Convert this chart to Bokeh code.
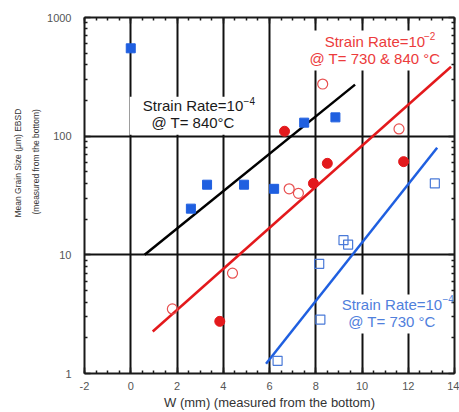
import math
from bokeh.plotting import figure
from bokeh.models import (Label, Title, LinearAxis, LogAxis, SingleIntervalTicker, FixedTicker,
                          Range1d, NumeralTickFormatter)
from bokeh.embed import file_html
from bokeh.resources import INLINE

# ---------------- data ----------------
# Strain rate 1e-4 @ 840 C (filled blue squares)
blue840_x = [0.0, 2.6, 3.3, 4.9, 6.2, 7.5, 8.85]
blue840_y = [550, 24.5, 39, 39, 36, 130, 144]
# Strain rate 1e-2 @ 730 & 840 C (filled red circles / open red circles)
red_filled_x = [3.85, 6.65, 7.9, 8.5, 11.8]
red_filled_y = [2.75, 110, 40, 59, 61]
red_open_x = [1.8, 4.4, 6.85, 7.25, 8.3, 11.6]
red_open_y = [3.5, 7.0, 36, 33, 275, 115]
# Strain rate 1e-4 @ 730 C (open blue squares)
blue730_x = [6.35, 8.2, 8.15, 9.2, 9.4, 13.15]
blue730_y = [1.28, 2.85, 8.4, 13.3, 12.2, 40]
# fit lines
black_fit_x = [0.6, 9.7]
black_fit_y = [10, 272]
red_fit_x = [0.95, 13.85]
red_fit_y = [2.26, 385]
blue_fit_x = [5.85, 13.25]
blue_fit_y = [1.21, 80]

x_ticks = [-2, 0, 2, 4, 6, 8, 10, 12, 14]
y_ticks = [1, 10, 100, 1000]
x_grid_ticks = [0, 2, 4, 6, 8, 10, 12]
y_grid_ticks = [10, 100]

FONT = "Liberation Sans"
AX = "#1a1a1a"
RED = "#e3191c"
RED_TXT = "#ec3b3b"
BLUE = "#1f5fe0"
BLUE_TXT = "#5080dc"

y_minor = [m * d for d in (1, 10, 100) for m in range(2, 10)]

p = figure(width=459, height=412, x_range=Range1d(-2, 14), y_range=Range1d(1, 1000),
           y_axis_type="log", output_backend="svg", toolbar_location=None,
           min_border_left=84, min_border_right=5, min_border_top=17, min_border_bottom=39)
p.outline_line_color = None
p.background_fill_color = "white"

def style_axis(ax, labels=True):
    ax.axis_line_color = AX
    ax.axis_line_width = 2
    ax.major_tick_in = 6
    ax.major_tick_out = 0
    ax.minor_tick_in = 3
    ax.minor_tick_out = 0
    ax.major_tick_line_color = AX
    ax.minor_tick_line_color = AX
    ax.major_tick_line_width = 1.5
    ax.minor_tick_line_width = 1.5
    if labels:
        ax.major_label_text_font = FONT
        ax.major_label_text_font_size = "11px"
        ax.major_label_text_color = "#555555"
    else:
        ax.major_label_text_font_size = "1px"
        ax.major_label_text_color = None
        ax.major_label_standoff = 0

xt = SingleIntervalTicker(interval=2, num_minor_ticks=4)
yt = FixedTicker(ticks=y_ticks, minor_ticks=y_minor)

p.xaxis.ticker = xt
p.yaxis.ticker = yt
p.yaxis.formatter = NumeralTickFormatter(format="0")
p.xaxis.formatter = NumeralTickFormatter(format="0")
style_axis(p.xaxis[0])
style_axis(p.yaxis[0])
p.xaxis.major_label_standoff = 8
p.yaxis.major_label_standoff = 13
p.xaxis.axis_label = "W (mm) (measured from the bottom)"
p.xaxis.axis_label_text_font = FONT
p.xaxis.axis_label_text_font_size = "13px"
p.xaxis.axis_label_text_font_style = "normal"
p.xaxis.axis_label_text_color = "#333333"
p.xaxis.axis_label_standoff = 2

top = LinearAxis(ticker=SingleIntervalTicker(interval=2, num_minor_ticks=4))
style_axis(top, labels=False)
p.add_layout(top, "above")
right = LogAxis(ticker=FixedTicker(ticks=y_ticks, minor_ticks=y_minor))
style_axis(right, labels=False)
p.add_layout(right, "right")

# y-axis title: two rotated lines, placed higher than centre like the reference
for txt, stand, off in (("(measured from the bottom)", 8, 159),
                        ("Mean Grain Size (μm) EBSD", 3, 156)):
    p.add_layout(Title(text=txt, align="left", offset=off, standoff=stand,
                       text_font=FONT, text_font_size="8.5px", text_font_style="normal",
                       text_color="#333333"), "left")

p.xgrid.ticker = FixedTicker(ticks=x_grid_ticks)
p.ygrid.ticker = FixedTicker(ticks=y_grid_ticks)
for g in (p.xgrid[0], p.ygrid[0]):
    g.grid_line_color = "#111111"
    g.grid_line_width = 2
    g.minor_grid_line_color = None

# fit lines
p.line(black_fit_x, black_fit_y, line_color="black", line_width=2.5)
p.line(red_fit_x, red_fit_y, line_color=RED, line_width=2.5)
p.line(blue_fit_x, blue_fit_y, line_color=BLUE, line_width=2.5)

# points
p.scatter(blue840_x, blue840_y, marker="square", size=9, fill_color=BLUE, line_color=BLUE)
p.scatter(red_filled_x, red_filled_y, marker="circle", size=10, fill_color=RED, line_color=RED)
p.scatter(red_open_x, red_open_y, marker="circle", size=10, fill_color=None,
          line_color="#e85050", line_width=1.2)
p.scatter(blue730_x, blue730_y, marker="square", size=9, fill_color=None,
          line_color="#4a7ad8", line_width=1.2)

def note(x, y, text, color, pad, sup, sup_dx, sup_dy):
    lab = Label(x=x, y=y, text=text, text_font=FONT, text_font_size="15px",
                text_color=color, text_align="center", text_baseline="middle",
                text_line_height=1.0, background_fill_color="white", padding=pad)
    p.add_layout(lab)
    s = Label(x=x, y=y, x_offset=sup_dx, y_offset=sup_dy, text=sup, text_font=FONT,
              text_font_size="10px", text_color=color, text_align="left",
              text_baseline="middle")
    p.add_layout(s)

note(2.5, 148.6, "Strain Rate=10\n@ T= 840°C", "#1a1a1a", (13, 4, 0, 4), "\u22124", 55, 15)
note(10.3, 526, "Strain Rate=10\n@ T= 730 & 840 °C", RED_TXT, (16, 4, 2, 4), "\u22122", 55, 15)
note(11.1, 3.17, "Strain Rate=10\n@ T= 730 °C", BLUE_TXT, (13, 4, 1, 4), "\u22124", 55, 15)

open("out.html", "w").write(file_html(p, INLINE))
